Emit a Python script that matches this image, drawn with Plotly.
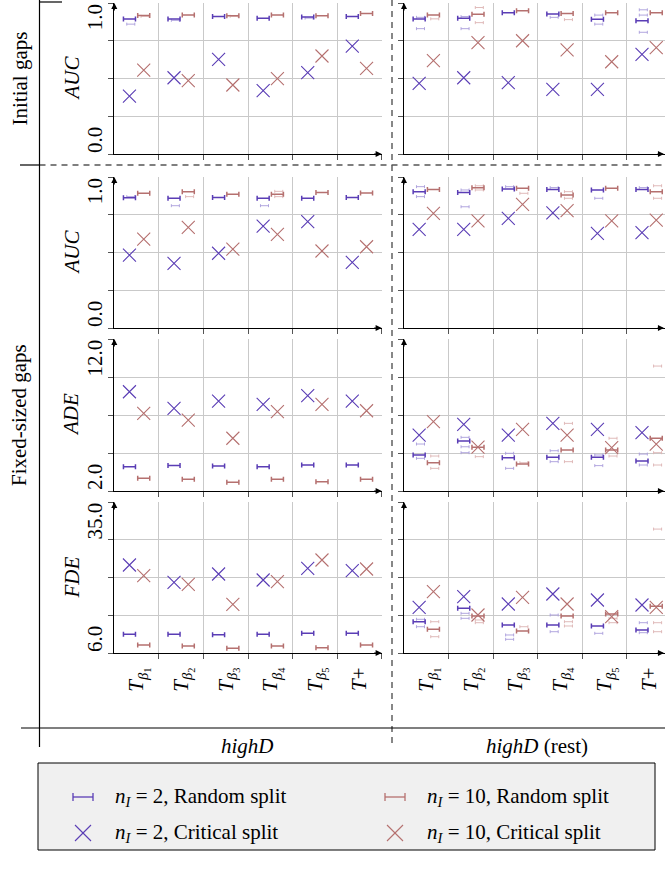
import plotly.graph_objects as go

W, H = 665, 873
BLUE = "#5a3db5"
RED = "#b5706f"
BLUE_F = "#a99ddb"
RED_F = "#dcb3b2"
FONT = "Liberation Serif"
FS = 21

# ---------------- data ----------------
cat_labels = ["<i>T</i><sub><i>β</i><sub>1</sub></sub>", "<i>T</i><sub><i>β</i><sub>2</sub></sub>",
              "<i>T</i><sub><i>β</i><sub>3</sub></sub>", "<i>T</i><sub><i>β</i><sub>4</sub></sub>",
              "<i>T</i><sub><i>β</i><sub>5</sub></sub>", "<i>T</i>+"]
cats = [1, 2, 3, 4, 5, 6]

# Initial gaps - AUC
ig_auc_left_rand_n2 = [0.894, 0.894, 0.910, 0.899, 0.907, 0.910]
ig_auc_left_rand_n10 = [0.918, 0.920, 0.916, 0.920, 0.916, 0.930]
ig_auc_left_crit_n2 = [0.384, 0.505, 0.627, 0.419, 0.539, 0.715]
ig_auc_left_crit_n10 = [0.556, 0.486, 0.457, 0.499, 0.649, 0.567]
ig_auc_right_rand_n2 = [0.894, 0.899, 0.936, 0.927, 0.892, 0.883]
ig_auc_right_rand_n10 = [0.920, 0.925, 0.949, 0.930, 0.936, 0.936]
ig_auc_right_crit_n2 = [0.468, 0.505, 0.472, 0.428, 0.428, 0.660]
ig_auc_right_crit_n10 = [0.618, 0.737, 0.750, 0.689, 0.611, 0.704]

# Fixed-sized gaps - AUC
fx_auc_left_rand_n2 = [0.863, 0.859, 0.865, 0.859, 0.859, 0.865]
fx_auc_left_rand_n10 = [0.892, 0.903, 0.885, 0.885, 0.898, 0.894]
fx_auc_left_crit_n2 = [0.483, 0.428, 0.495, 0.675, 0.704, 0.435]
fx_auc_left_crit_n10 = [0.589, 0.667, 0.523, 0.620, 0.510, 0.538]
fx_auc_right_rand_n2 = [0.903, 0.898, 0.920, 0.918, 0.914, 0.918]
fx_auc_right_rand_n10 = [0.918, 0.929, 0.925, 0.880, 0.925, 0.903]
fx_auc_right_crit_n2 = [0.653, 0.653, 0.726, 0.763, 0.627, 0.631]
fx_auc_right_crit_n10 = [0.759, 0.709, 0.819, 0.777, 0.709, 0.715]

# Fixed-sized gaps - ADE
ade_left_rand_n2 = [3.60, 3.67, 3.64, 3.60, 3.71, 3.71]
ade_left_rand_n10 = [2.84, 2.77, 2.57, 2.77, 2.61, 2.77]
ade_left_crit_n2 = [8.53, 7.44, 7.92, 7.70, 8.27, 7.92]
ade_left_crit_n10 = [7.11, 6.67, 5.47, 7.22, 7.70, 7.28]
ade_right_rand_n2 = [4.37, 5.29, 4.19, 4.22, 4.22, 3.97]
ade_right_rand_n10 = [3.86, 4.88, 3.78, 4.70, 4.70, 5.47]
ade_right_crit_n2 = [5.68, 6.39, 5.68, 6.45, 6.06, 5.84]
ade_right_crit_n10 = [6.56, 4.88, 6.06, 5.68, 4.85, 5.09]

# Fixed-sized gaps - FDE
fde_left_rand_n2 = [9.59, 9.59, 9.50, 9.59, 9.78, 9.78]
fde_left_rand_n10 = [7.54, 7.34, 6.90, 7.34, 7.02, 7.54]
fde_left_crit_n2 = [22.90, 19.58, 21.17, 20.02, 22.27, 21.80]
fde_left_crit_n10 = [20.85, 19.19, 15.35, 19.69, 23.86, 22.13]
fde_right_rand_n2 = [12.01, 14.58, 11.38, 11.38, 11.19, 10.42]
fde_right_rand_n10 = [10.55, 13.10, 10.22, 13.10, 13.49, 15.00]
fde_right_crit_n2 = [14.78, 16.81, 15.41, 17.33, 16.18, 15.22]
fde_right_crit_n10 = [17.78, 13.30, 16.70, 15.41, 12.97, 14.78]

# individual runs (faint bars): category index and value
ig_left_faint_n2_cat = [1, 2, 5]
ig_left_faint_n2_val = [0.860, 0.885, 0.900]
ig_left_faint_n10_cat = [1, 3]
ig_left_faint_n10_val = [0.912, 0.912]
ig_right_faint_n2_cat = [1, 1, 2, 2, 4, 5, 5, 6, 6, 6]
ig_right_faint_n2_val = [0.830, 0.905, 0.830, 0.910, 0.905, 0.920, 0.860, 0.955, 0.920, 0.806]
ig_right_faint_n10_cat = [1, 2, 2, 4]
ig_right_faint_n10_val = [0.895, 0.970, 0.870, 0.890]

fx_left_faint_n2_cat = [1, 2, 4]
fx_left_faint_n2_val = [0.870, 0.810, 0.810]
fx_left_faint_n10_cat = [2, 4, 4]
fx_left_faint_n10_val = [0.870, 0.870, 0.905]
fx_right_faint_n2_cat = [1, 1, 2, 2, 3, 4, 5, 6]
fx_right_faint_n2_val = [0.936, 0.870, 0.803, 0.914, 0.936, 0.930, 0.859, 0.930]
fx_right_faint_n10_cat = [2, 2, 3, 4, 4, 6, 6]
fx_right_faint_n10_val = [0.942, 0.914, 0.892, 0.903, 0.859, 0.942, 0.859]

ade_right_faint_n2_cat = [1, 1, 2, 2, 2, 3, 3, 4, 4, 5, 5, 6, 6]
ade_right_faint_n2_val = [5.09, 4.15, 5.53, 4.91, 4.52, 4.48, 3.49, 4.65, 3.93, 4.37, 3.67, 4.43, 3.71]
ade_right_faint_n10_cat = [1, 1, 2, 3, 4, 4, 5, 5, 6, 6, 6]
ade_right_faint_n10_val = [4.30, 3.49, 4.26, 3.86, 6.45, 3.93, 5.47, 4.30, 10.22, 4.52, 3.71]

fde_right_faint_n2_cat = [1, 1, 2, 2, 3, 3, 4, 4, 5, 6, 6]
fde_right_faint_n2_val = [12.47, 11.05, 13.62, 12.66, 9.46, 8.63, 13.30, 10.09, 9.78, 11.82, 9.90]
fde_right_faint_n10_cat = [1, 1, 2, 2, 3, 4, 4, 5, 5, 6, 6, 6]
fde_right_faint_n10_val = [12.01, 9.13, 12.34, 11.82, 11.05, 12.01, 11.19, 12.66, 11.82, 11.82, 10.09, 29.80]

# ---------------- layout helpers ----------------
def px(x):
    return x / W

def py(y):
    return 1 - y / H

rows_px = [(3, 154), (177, 328), (339, 491), (502, 653)]
col_px = [(114.3, 381.7), (404, 665)]
cell = (381.7 - 114.3) / 6
yranges = [[0, 1], [0, 1], [2, 12], [6, 35]]
ylabels = [("1.0", "0.0"), ("1.0", "0.0"), ("12.0", "2.0"), ("35.0", "6.0")]
ytitles = ["AUC", "AUC", "ADE", "FDE"]

fig = go.Figure()
OFF = 0.16

def ax_names(r, c):
    i = r * 2 + c + 1
    return ("x" if i == 1 else f"x{i}"), ("y" if i == 1 else f"y{i}")

def add_rand(xs, ys, color, r, c, off, faint=False):
    xa, ya = ax_names(r, c)
    fig.add_trace(go.Scatter(
        x=[v + off for v in xs], y=ys, mode="markers",
        marker=dict(size=1, color="rgba(0,0,0,0)"),
        error_x=dict(type="constant", value=(0.09 if faint else 0.135), color=color,
                     thickness=(0.9 if faint else 1.5), width=(1.5 if faint else 2.5)),
        xaxis=xa, yaxis=ya, showlegend=False, hoverinfo="skip"))

def add_crit(xs, ys, color, r, c, off):
    xa, ya = ax_names(r, c)
    fig.add_trace(go.Scatter(
        x=[v + off for v in xs], y=ys, mode="markers",
        marker=dict(symbol="x-thin", size=13, line=dict(width=1.1, color=color)),
        xaxis=xa, yaxis=ya, showlegend=False, hoverinfo="skip"))

panels = [
    (0, 0, ig_auc_left_rand_n2, ig_auc_left_rand_n10, ig_auc_left_crit_n2, ig_auc_left_crit_n10,
     (ig_left_faint_n2_cat, ig_left_faint_n2_val), (ig_left_faint_n10_cat, ig_left_faint_n10_val)),
    (0, 1, ig_auc_right_rand_n2, ig_auc_right_rand_n10, ig_auc_right_crit_n2, ig_auc_right_crit_n10,
     (ig_right_faint_n2_cat, ig_right_faint_n2_val), (ig_right_faint_n10_cat, ig_right_faint_n10_val)),
    (1, 0, fx_auc_left_rand_n2, fx_auc_left_rand_n10, fx_auc_left_crit_n2, fx_auc_left_crit_n10,
     (fx_left_faint_n2_cat, fx_left_faint_n2_val), (fx_left_faint_n10_cat, fx_left_faint_n10_val)),
    (1, 1, fx_auc_right_rand_n2, fx_auc_right_rand_n10, fx_auc_right_crit_n2, fx_auc_right_crit_n10,
     (fx_right_faint_n2_cat, fx_right_faint_n2_val), (fx_right_faint_n10_cat, fx_right_faint_n10_val)),
    (2, 0, ade_left_rand_n2, ade_left_rand_n10, ade_left_crit_n2, ade_left_crit_n10, None, None),
    (2, 1, ade_right_rand_n2, ade_right_rand_n10, ade_right_crit_n2, ade_right_crit_n10,
     (ade_right_faint_n2_cat, ade_right_faint_n2_val), (ade_right_faint_n10_cat, ade_right_faint_n10_val)),
    (3, 0, fde_left_rand_n2, fde_left_rand_n10, fde_left_crit_n2, fde_left_crit_n10, None, None),
    (3, 1, fde_right_rand_n2, fde_right_rand_n10, fde_right_crit_n2, fde_right_crit_n10,
     (fde_right_faint_n2_cat, fde_right_faint_n2_val), (fde_right_faint_n10_cat, fde_right_faint_n10_val)),
]

for (r, c, rn2, rn10, cn2, cn10, f2, f10) in panels:
    if f2:
        add_rand(f2[0], f2[1], BLUE_F, r, c, -OFF + 0.03, faint=True)
    if f10:
        add_rand(f10[0], f10[1], RED_F, r, c, OFF + 0.03, faint=True)
    add_rand(cats, rn2, BLUE, r, c, -OFF)
    add_rand(cats, rn10, RED, r, c, OFF)
    add_crit(cats, cn2, BLUE, r, c, -OFF)
    add_crit(cats, cn10, RED, r, c, OFF)

GRID = "#c9c9c9"
annotations = []
layout_axes = {}

def ann(x, y, text, angle=0, xanchor="center", size=FS):
    annotations.append(dict(x=px(x), y=py(y), xref="paper", yref="paper", text=text,
                            showarrow=False, textangle=angle, xanchor=xanchor, yanchor="middle",
                            font=dict(family=FONT, size=size, color="black")))

for r in range(4):
    t, b = rows_px[r]
    lo, hi = yranges[r]
    step = (hi - lo) / 4
    for c in range(2):
        i = r * 2 + c + 1
        xk = "xaxis" if i == 1 else f"xaxis{i}"
        yk = "yaxis" if i == 1 else f"yaxis{i}"
        xa, ya = ax_names(r, c)
        l, rr = col_px[c]
        xmax = 0.5 + (rr - l) / cell
        layout_axes[xk] = dict(
            domain=[px(l), px(rr) if rr < W else 1.0], range=[0.5, xmax], anchor=ya,
            showgrid=False, zeroline=False, showline=True, linecolor="black", linewidth=1.2,
            tickmode="array", tickvals=cats, ticktext=cat_labels, ticks="",
            showticklabels=(r == 3), tickangle=-90, ticklabelstandoff=5,
            tickfont=dict(family=FONT, size=FS, color="black"),
            minor=dict(tickmode="array", tickvals=[1.5, 2.5, 3.5, 4.5, 5.5, 6.5], ticks="outside",
                       ticklen=5, tickcolor="#555", showgrid=True, gridcolor=GRID, gridwidth=1),
            fixedrange=True)
        layout_axes[yk] = dict(
            domain=[py(b), py(t)], range=[lo, hi], anchor=xa,
            tickmode="array", tickvals=[lo + k * step for k in range(5)],
            showticklabels=False, ticks="outside", ticklen=5, tickcolor="#555",
            showgrid=True, gridcolor=GRID, gridwidth=1, zeroline=False,
            showline=True, linecolor="black", linewidth=1.2, fixedrange=True)
        # arrowheads
        annotations.append(dict(x=px(rr) if rr < W else 1.0, y=py(b), xref="paper", yref="paper",
                                ax=-9, ay=0, axref="pixel", ayref="pixel", text="", showarrow=True,
                                arrowhead=2, arrowsize=1.1, arrowwidth=1.1, arrowcolor="black"))
        annotations.append(dict(x=px(l), y=py(t), xref="paper", yref="paper",
                                ax=0, ay=9, axref="pixel", ayref="pixel", text="", showarrow=True,
                                arrowhead=2, arrowsize=1.1, arrowwidth=1.1, arrowcolor="black"))
    # y tick labels and title (left column only)
    top_lab, bot_lab = ylabels[r]
    half_top = 0.5 * FS * (0.5 * (len(top_lab) - 1) + 0.25)
    half_bot = 0.5 * FS * (0.5 * (len(bot_lab) - 1) + 0.25)
    ann(95, t + half_top + 1, top_lab, angle=-90)
    ann(95, b - half_bot - 1, bot_lab, angle=-90)
    ann(71, (t + b) / 2, f"<i>{ytitles[r]}</i>", angle=-90)

# group labels
ann(19, 78.5, "Initial gaps", angle=-90)
ann(19, 415, "Fixed-sized gaps", angle=-90)
ann(247, 746, "<i>highD</i>")
ann(537, 746, "<i>highD</i> (rest)")

shapes = []
def line(x0, y0, x1, y1, color="black", width=1.2, dash=None):
    d = dict(type="line", xref="paper", yref="paper", x0=px(x0), y0=py(y0), x1=px(x1), y1=py(y1),
             line=dict(color=color, width=width))
    if dash:
        d["line"]["dash"] = dash
    shapes.append(d)

line(39.5, 0, 39.5, 747)
line(39.5, 2, 62, 2)
line(20, 165, 39.5, 165)
line(39.5, 165, 665, 165, dash="6px,5px")
line(392, 0, 392, 747, color="#555", width=1.4, dash="6px,5px")
line(21, 728, 665, 728)

# legend box
shapes.append(dict(type="rect", xref="paper", yref="paper", x0=px(38), y0=py(850), x1=px(655), y1=py(763),
                   line=dict(color="black", width=1), fillcolor="#f0f0f0", layer="below"))
leg_items = [
    (73, 797, BLUE, "bar", "<i>n</i><sub><i>I</i></sub> = 2, Random split"),
    (385, 797, RED, "bar", "<i>n</i><sub><i>I</i></sub> = 10, Random split"),
    (73, 833, BLUE, "x", "<i>n</i><sub><i>I</i></sub> = 2, Critical split"),
    (385, 833, RED, "x", "<i>n</i><sub><i>I</i></sub> = 10, Critical split"),
]
for (x0, yc, col, kind, txt) in leg_items:
    if kind == "bar":
        line(x0, yc, x0 + 20, yc, color=col, width=1.3)
        line(x0, yc - 4, x0, yc + 4, color=col, width=1.3)
        line(x0 + 20, yc - 4, x0 + 20, yc + 4, color=col, width=1.3)
    else:
        line(x0 + 2, yc - 8, x0 + 18, yc + 8, color=col, width=1.1)
        line(x0 + 2, yc + 8, x0 + 18, yc - 8, color=col, width=1.1)
    ann(x0 + 40, yc, txt, xanchor="left")

fig.update_layout(
    width=W, height=H, margin=dict(l=0, r=0, t=0, b=0),
    paper_bgcolor="white", plot_bgcolor="white",
    showlegend=False, annotations=annotations, shapes=shapes,
    font=dict(family=FONT, size=FS, color="black"),
    **layout_axes)

fig.write_html("out.html")
